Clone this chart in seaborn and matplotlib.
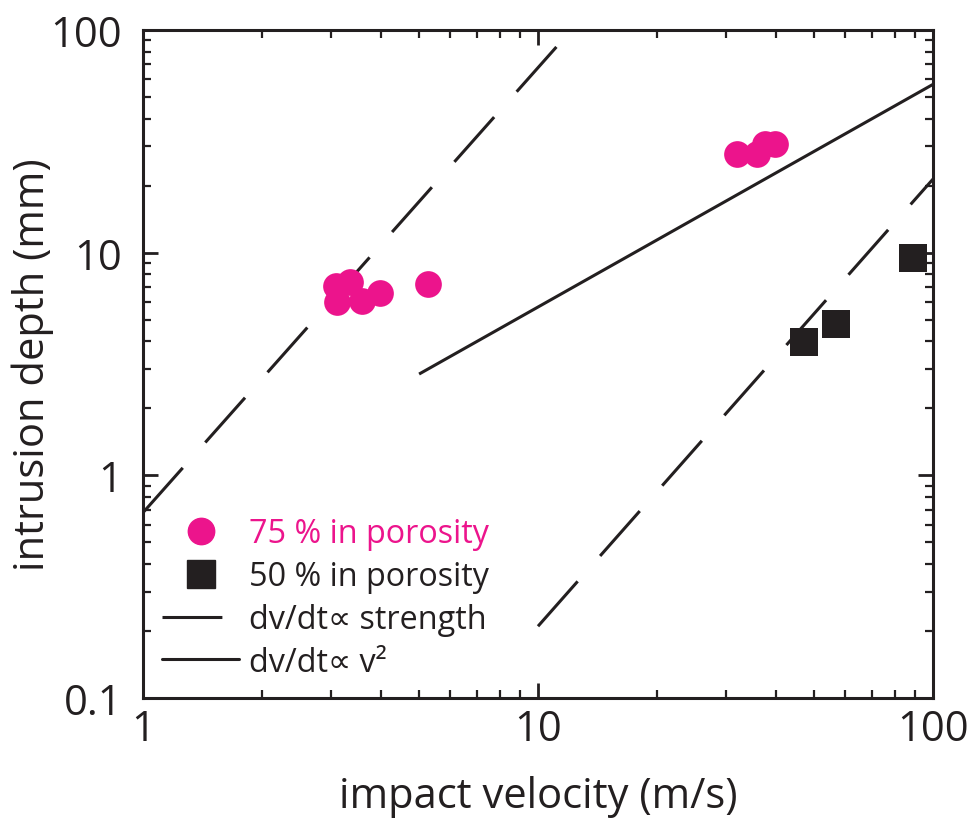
import numpy as np
import pandas as pd
import matplotlib
matplotlib.use('Agg')
import matplotlib.pyplot as plt
import seaborn as sns
from matplotlib.lines import Line2D
from matplotlib.ticker import LogLocator, FixedFormatter, FixedLocator, NullFormatter

# Data
v_75 = [3.08, 3.34, 3.10, 3.58, 3.98, 5.27, 31.9, 35.8, 37.6, 39.8]
d_75 = [7.1, 7.4, 6.0, 6.06, 6.6, 7.25, 27.7, 27.7, 30.7, 30.7]

v_50 = [47.1, 56.8, 89.0]
d_50 = [3.97, 4.78, 9.46]

# guide lines (end points)
strength1_v = [1.0, 11.4]
strength1_d = [0.68, 88.0]
strength2_v = [10.0, 100.0]
strength2_d = [0.21, 21.4]
v2_v = [5.0, 100.0]
v2_d = [2.85, 57.0]

PINK = '#EC148C'
DARK = '#231F20'

sns.set_theme(style='white')
plt.rcParams['font.family'] = ['Open Sans', 'DejaVu Sans']

fig = plt.figure(figsize=(9.8, 8.2), dpi=100)
ax = fig.add_axes([143/980, 1-699/820, (933-143)/980, (699-31)/820])

df75 = pd.DataFrame({'v': v_75, 'd': d_75})
df50 = pd.DataFrame({'v': v_50, 'd': d_50})

LW = 2.2
dash = (19.6, 11.1)
for xs, ys, style in [(strength1_v, strength1_d, dash),
                      (strength2_v, strength2_d, dash),
                      (v2_v, v2_d, None)]:
    ln, = ax.plot(xs, ys, color=DARK, lw=LW, solid_capstyle='butt')
    if style:
        ln.set_dashes(style)
        ln.set_dash_capstyle('butt')

sns.scatterplot(data=df75, x='v', y='d', ax=ax, s=370, color=PINK,
                marker='o', linewidth=0, zorder=3)
sns.scatterplot(data=df50, x='v', y='d', ax=ax, s=430, color=DARK,
                marker='s', linewidth=0, zorder=3)

ax.set_xscale('log')
ax.set_yscale('log')
ax.set_xlim(1, 100)
ax.set_ylim(0.1, 100)

ax.xaxis.set_major_locator(FixedLocator([1, 10, 100]))
ax.xaxis.set_major_formatter(FixedFormatter(['1', '10', '100']))
ax.yaxis.set_major_locator(FixedLocator([0.1, 1, 10, 100]))
ax.yaxis.set_major_formatter(FixedFormatter(['0.1', '1', '10', '100']))
for axis in (ax.xaxis, ax.yaxis):
    axis.set_minor_locator(LogLocator(base=10, subs=np.arange(2, 10)))
    axis.set_minor_formatter(NullFormatter())

for sp in ax.spines.values():
    sp.set_linewidth(2.2)
    sp.set_color(DARK)

ax.tick_params(which='both', direction='in', top=True, right=True,
               bottom=True, left=True, color=DARK, labelcolor=DARK)
ax.tick_params(which='major', length=11, width=2.0, labelsize=30)
ax.tick_params(which='minor', length=6, width=1.6)
ax.tick_params(axis='x', which='major', pad=7)
ax.tick_params(axis='y', which='major', pad=15)

ax.set_xlabel('impact velocity (m/s)', fontsize=30, color=DARK, labelpad=18)
ax.set_ylabel('intrusion depth (mm)', fontsize=30, color=DARK)
ax.yaxis.set_label_coords(-0.139, 0.5)
ax.yaxis.label.set_verticalalignment('center')

handles = [
    Line2D([], [], marker='o', color=PINK, ls='none', markersize=19),
    Line2D([], [], marker='s', color=DARK, ls='none', markersize=20),
    Line2D([], [], color=DARK, lw=LW, dashes=dash),
    Line2D([], [], color=DARK, lw=LW),
]
labels = ['75 % in porosity', '50 % in porosity',
          'dv/dt\u221d strength', 'dv/dt\u221d v\u00b2']
leg = ax.legend(handles, labels, loc='lower left', bbox_to_anchor=(0.0, 0.0),
                frameon=False, fontsize=23.3, handlelength=2.38,
                handletextpad=0.3, labelspacing=0.3, borderaxespad=0.2)
leg.get_texts()[0].set_color(PINK)
for t in leg.get_texts()[1:]:
    t.set_color(DARK)

fig.savefig('out.png', dpi=100)
